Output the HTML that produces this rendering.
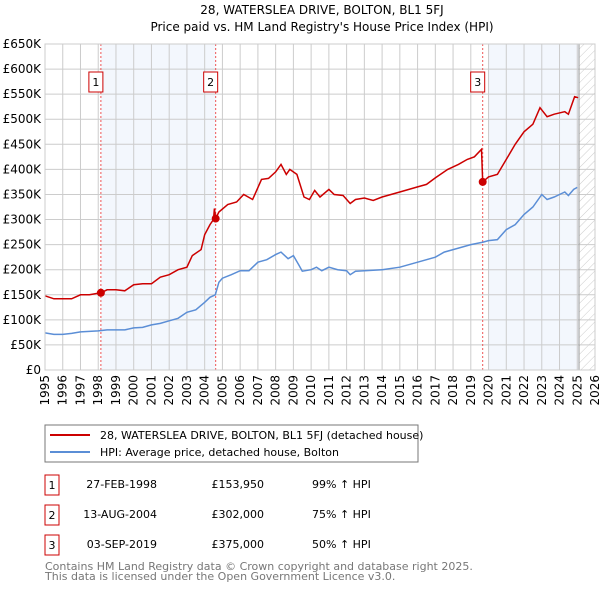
<!DOCTYPE html>
<html><head><meta charset="utf-8"><style>
body{margin:0;background:#fff;font-family:"Liberation Sans","DejaVu Sans",sans-serif;}
</style></head><body>
<svg width="600" height="590" xmlns="http://www.w3.org/2000/svg" style="font-family:'DejaVu Sans','Liberation Sans',sans-serif">
<defs><pattern id="hatch" width="6" height="6" patternUnits="userSpaceOnUse" patternTransform="rotate(45)"><line x1="0" y1="0" x2="0" y2="6" stroke="#ccc" stroke-width="1"/></pattern></defs>
<text x="322" y="14" text-anchor="middle" font-size="12">28, WATERSLEA DRIVE, BOLTON, BL1 5FJ</text>
<text x="322" y="31" text-anchor="middle" font-size="12">Price paid vs. HM Land Registry's House Price Index (HPI)</text>
<g id="plot"></g>
<rect x="45" y="425" width="373" height="37" fill="#fff" stroke="#777"/>
<line x1="50" y1="435" x2="90" y2="435" stroke="#cc0000" stroke-width="2"/>
<text x="100" y="439" font-size="11">28, WATERSLEA DRIVE, BOLTON, BL1 5FJ (detached house)</text>
<line x1="50" y1="452" x2="90" y2="452" stroke="#5b8ed6" stroke-width="2"/>
<text x="100" y="456" font-size="11">HPI: Average price, detached house, Bolton</text>
<g font-size="11">
<rect x="45" y="475" width="14" height="20" fill="#fff" stroke="#cc0000"/><text x="52" y="489" text-anchor="middle">1</text>
<text x="157" y="488" text-anchor="end">27-FEB-1998</text><text x="264" y="488" text-anchor="end">£153,950</text><text x="312" y="488">99% ↑ HPI</text>
<rect x="45" y="505" width="14" height="20" fill="#fff" stroke="#cc0000"/><text x="52" y="519" text-anchor="middle">2</text>
<text x="157" y="518" text-anchor="end">13-AUG-2004</text><text x="264" y="518" text-anchor="end">£302,000</text><text x="312" y="518">75% ↑ HPI</text>
<rect x="45" y="535" width="14" height="20" fill="#fff" stroke="#cc0000"/><text x="52" y="549" text-anchor="middle">3</text>
<text x="157" y="548" text-anchor="end">03-SEP-2019</text><text x="264" y="548" text-anchor="end">£375,000</text><text x="312" y="548">50% ↑ HPI</text>
</g>
<text x="45" y="570" font-size="11" fill="#777">Contains HM Land Registry data © Crown copyright and database right 2025.</text>
<text x="45" y="580" font-size="11" fill="#777">This data is licensed under the Open Government Licence v3.0.</text>
</svg>
<script>
const yTicks=[0,50,100,150,200,250,300,350,400,450,500,550,600,650];
const yLabels=["£0","£50K","£100K","£150K","£200K","£250K","£300K","£350K","£400K","£450K","£500K","£550K","£600K","£650K"];
const xYears=[1995,1996,1997,1998,1999,2000,2001,2002,2003,2004,2005,2006,2007,2008,2009,2010,2011,2012,2013,2014,2015,2016,2017,2018,2019,2020,2021,2022,2023,2024,2025,2026];
const hpiT=[1995,1995.5,1996,1996.5,1997,1997.5,1998,1998.5,1999,1999.5,2000,2000.5,2001,2001.5,2002,2002.5,2003,2003.5,2004,2004.3,2004.6,2004.8,2005,2005.5,2006,2006.5,2007,2007.5,2008,2008.3,2008.7,2009,2009.3,2009.5,2010,2010.3,2010.6,2011,2011.5,2012,2012.2,2012.5,2013,2014,2015,2016,2017,2017.5,2018,2019,2019.7,2020,2020.5,2021,2021.5,2022,2022.5,2023,2023.3,2023.7,2024,2024.3,2024.5,2024.8,2025];
const hpiV=[74,71,71,73,76,77,78,80,80,80,84,85,90,93,98,103,115,120,135,145,150,175,183,190,198,198,215,220,230,235,222,228,210,197,200,205,198,205,200,198,190,197,198,200,205,215,225,235,240,250,255,258,260,280,290,310,325,350,340,345,350,355,348,360,364];
const priceT=[1995,1995.5,1996.5,1997,1997.5,1998.15,1998.5,1999,1999.5,2000,2000.5,2001,2001.5,2002,2002.5,2003,2003.3,2003.8,2004,2004.3,2004.5,2004.55,2004.62,2004.8,2005.3,2005.8,2006.2,2006.7,2007.2,2007.6,2008,2008.3,2008.6,2008.8,2009.2,2009.6,2009.9,2010.2,2010.5,2011,2011.3,2011.8,2012.2,2012.5,2013,2013.5,2014,2015,2016,2016.5,2017,2017.7,2018.3,2018.8,2019.2,2019.6,2019.67,2020,2020.5,2021,2021.5,2022,2022.5,2022.9,2023.3,2023.7,2024.3,2024.5,2024.85,2025.05];
const priceV=[148,142,142,150,150,154,160,160,158,170,172,172,185,190,200,205,228,240,270,290,300,322,302,315,330,335,350,340,380,382,395,410,390,400,390,345,340,358,345,360,350,348,332,340,343,338,345,355,365,370,383,400,410,420,425,440,375,385,390,420,450,475,490,523,505,510,515,510,545,543];
const saleT=[1998.15,2004.62,2019.67];
const saleV=[153.95,302,375];
const saleLabels=["1","2","3"];
const X0=45,X1=595,Y0=370,Y1=44,XEND=2025.1;
const x=t=>X0+(t-1995)*(X1-X0)/31;
const y=v=>Y0-v*(Y0-Y1)/650;
const NS="http://www.w3.org/2000/svg";
const g=document.getElementById('plot');
function mk(tag,attrs){const e=document.createElementNS(NS,tag);for(const k in attrs)e.setAttribute(k,attrs[k]);g.appendChild(e);return e;}
let e;
e=mk('rect',{x:x(saleT[0]),y:Y1,width:x(saleT[1])-x(saleT[0]),height:Y0-Y1,fill:'#eef3fc',opacity:0.7});


e=mk('rect',{x:x(2020),y:Y1,width:x(XEND)-x(2020),height:Y0-Y1,fill:'#eef3fc',opacity:0.7});


e=mk('rect',{x:x(XEND),y:Y1,width:X1-x(XEND),height:Y0-Y1,fill:'url(#hatch)'});


yTicks.forEach((v,i)=>{
 e=mk('line',{x1:X0,x2:X1,y1:y(v),y2:y(v),stroke:'#ccc','stroke-width':1});
 
 
 e=mk('text',{x:41,y:y(v)+4,'text-anchor':'end','font-size':12});
 e.textContent=yLabels[i];
 
 
});
xYears.forEach(t=>{
 e=mk('line',{x1:x(t),x2:x(t),y1:Y1,y2:Y0,stroke:'#ccc','stroke-width':1});
 
 
 e=mk('text',{x:0,y:0,'text-anchor':'end','font-size':12,transform:`translate(${x(t)+4},375) rotate(-90)`});
 e.textContent=t;
 
 
});
e=mk('line',{x1:x(XEND),x2:x(XEND),y1:Y1,y2:Y0,stroke:'#999','stroke-width':1});


saleT.forEach((t,i)=>{
 e=mk('line',{x1:x(t),x2:x(t),y1:Y1,y2:Y0,stroke:'#e55','stroke-width':1,'stroke-dasharray':'2,2'});
 
 
});
const pts=(T,V)=>T.map((t,i)=>x(t).toFixed(1)+','+y(V[i]).toFixed(1)).join(' ');
e=mk('polyline',{points:pts(hpiT,hpiV),fill:'none',stroke:'#5b8ed6','stroke-width':1.5});


e=mk('polyline',{points:pts(priceT,priceV),fill:'none',stroke:'#cc0000','stroke-width':1.5});


saleT.forEach((t,i)=>{
 e=mk('circle',{cx:x(t),cy:y(saleV[i]),r:4,fill:'#cc0000'});
 
 
 e=mk('rect',{x:x(t)-12,y:72,width:14,height:20,fill:'#fff',stroke:'#cc0000'});
 
 
 e=mk('text',{x:x(t)-5,y:86,'text-anchor':'middle','font-size':11});
 e.textContent=saleLabels[i];
 
 
});
e=mk('rect',{x:X0,y:Y1,width:X1-X0,height:Y0-Y1,fill:'none',stroke:'#ccc'});


</script>
</body></html>
